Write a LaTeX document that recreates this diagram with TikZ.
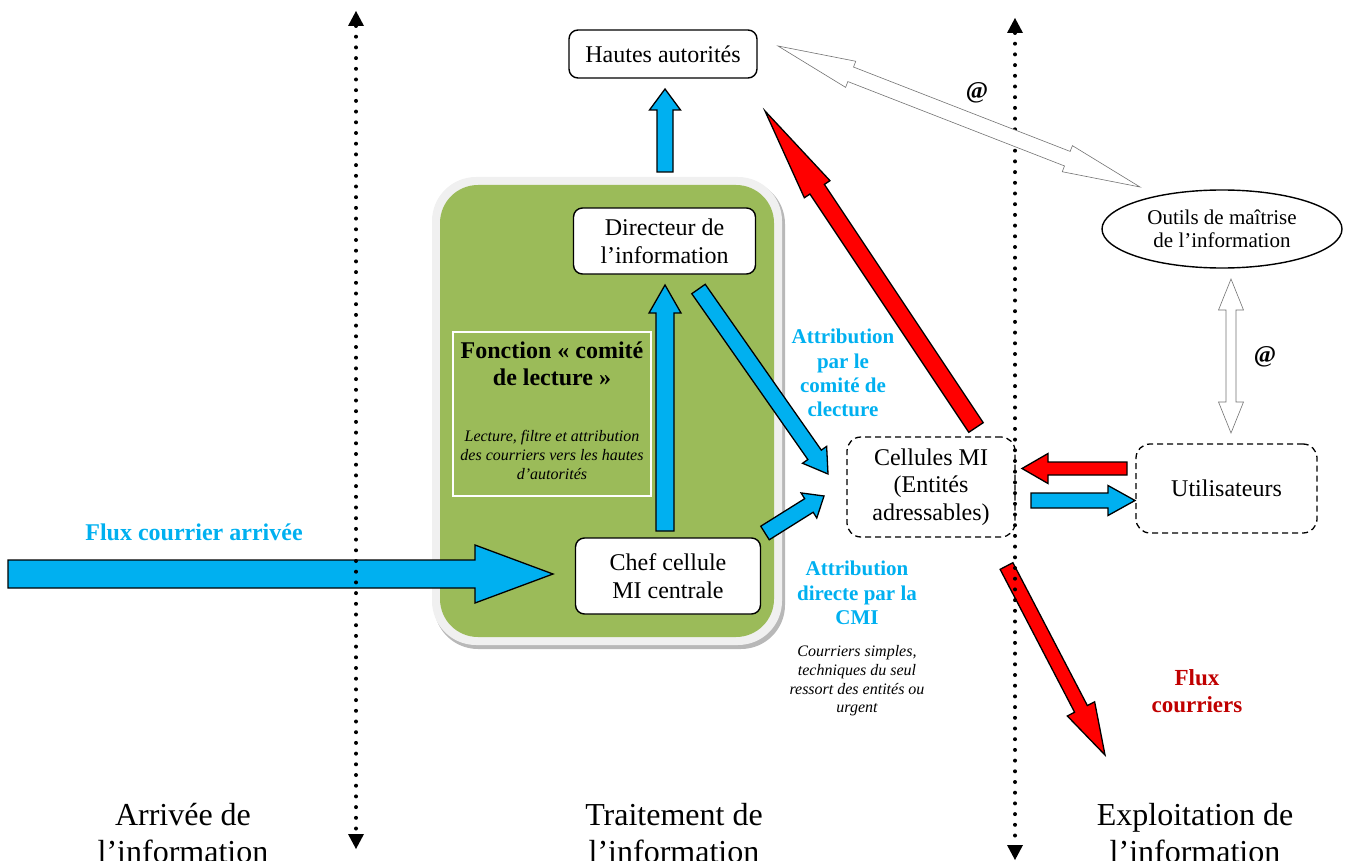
\documentclass[tikz,border=0pt]{standalone}
\usepackage{fontspec}
\setmainfont{Liberation Serif}
\usetikzlibrary{calc,arrows.meta,shapes.geometric}
\definecolor{cblue}{HTML}{00B0F0}
\definecolor{cred}{HTML}{FF0000}
\definecolor{cdred}{HTML}{C00000}
\definecolor{cgreen}{HTML}{9BBB59}
\newcommand\fsz[2]{\fontsize{#1}{#2}\selectfont}
% block arrow: style, from, to, shaft half width, head half width, head length
\newcommand\blkarrow[6]{%
  \path[#1] ($(#2)!#4!90:(#3)$) -- ($(#3)!#6!(#2)!#4!90:(#3)$) -- ($(#3)!#6!(#2)!#5!90:(#3)$) -- (#3)
    -- ($(#3)!#6!(#2)!#5!-90:(#3)$) -- ($(#3)!#6!(#2)!#4!-90:(#3)$) -- ($(#2)!#4!-90:(#3)$) -- cycle;}
% double hollow arrow
\newcommand\dblarrow[6]{%
  \path[#1] (#2) -- ($(#2)!#6!(#3)!#5!90:(#3)$) -- ($(#2)!#6!(#3)!#4!90:(#3)$)
    -- ($(#3)!#6!(#2)!#4!90:(#3)$) -- ($(#3)!#6!(#2)!#5!90:(#3)$) -- (#3)
    -- ($(#3)!#6!(#2)!#5!-90:(#3)$) -- ($(#3)!#6!(#2)!#4!-90:(#3)$)
    -- ($(#2)!#6!(#3)!#4!-90:(#3)$) -- ($(#2)!#6!(#3)!#5!-90:(#3)$) -- cycle;}
\begin{document}
\begin{tikzpicture}[x=1pt,y=-1pt,
  box/.style={draw, line width=1.4pt, rounded corners=9pt, fill=white, align=center, inner sep=0pt,
    font=\fsz{24}{27.6}},
  dbox/.style={draw, line width=1.3pt, dash pattern=on 6pt off 4pt, rounded corners=14pt, align=center,
    inner sep=0pt, font=\fsz{24}{27.3}},
  blueblk/.style={draw=black, line width=1.3pt, fill=cblue, line join=miter},
  redblk/.style={draw=black, line width=1.3pt, fill=cred, line join=miter},
  hollow/.style={draw=black!55, line width=0.6pt, fill=white},
  dotline/.style={line width=4pt, line cap=round, dash pattern=on 0pt off 10.7pt,
    {Triangle[width=16pt,length=15pt,line width=0pt]}-{Triangle[width=16pt,length=15pt,line width=0pt]}},
  bluetxt/.style={text=cblue, font=\bfseries\fsz{21}{24.3}, align=center, inner sep=0pt},
  ital/.style={font=\itshape\fsz{16}{18.6}, align=center, inner sep=0pt},
  bottomtxt/.style={font=\fsz{32}{37}, align=center, inner sep=0pt}]
\useasboundingbox (0,0) rectangle (1351,861);

% green block
\fill[black!28, rounded corners=44pt] (434,180) rectangle (785,649);
\fill[black!6, rounded corners=44pt] (432,177) rectangle (782,645);
\fill[cgreen, rounded corners=38pt] (440,185) rectangle (774,637);

% nodes
\node[box, minimum width=188pt, minimum height=48pt] (ha) at (663,54) {Hautes autorités};
\node[box, minimum width=182pt, minimum height=66pt] (dir) at (664.5,241) {Directeur de\\l’information};
\node[box, minimum width=185pt, minimum height=76pt] (chef) at (668,576) {Chef cellule\\MI centrale};
\node[draw=white, line width=1.2pt, minimum width=198pt, minimum height=164pt, inner sep=0pt] (fct) at (552,414) {};
\node[font=\bfseries\fsz{24}{27}, align=center, inner sep=0pt] (fcttitle) at (552,364) {Fonction « comité\\de lecture »};
\node[ital] (fcttext) at (552,455) {Lecture, filtre et attribution\\des courriers vers les hautes\\d’autorités};
\node[dbox, minimum width=168pt, minimum height=100pt] (cel) at (931,487) {Cellules MI\\(Entités\\adressables)};
\node[dbox, minimum width=181pt, minimum height=89pt] (uti) at (1226.5,488.5) {Utilisateurs};
\node[draw, ellipse, line width=1.4pt, minimum width=240pt, minimum height=78pt, inner sep=0pt,
  align=center, font=\fsz{21}{23.5}] (out) at (1222,229) {Outils de maîtrise\\de l’information};

% texts
\node[bluetxt, font=\bfseries\fsz{24}{27}] (fluxin) at (194,532) {Flux courrier arrivée};
\node[bluetxt] (attr1) at (843,373) {Attribution\\par le\\comité de\\clecture};
\node[bluetxt] (attr2) at (857,593) {Attribution\\directe par la\\CMI};
\node[ital] (courr) at (857,681) {Courriers simples,\\techniques du seul\\ressort des entités ou\\urgent};
\node[text=cdred, font=\bfseries\fsz{23}{27}, align=center, inner sep=0pt] (fluxout) at (1197,691) {Flux\\courriers};
\node[font=\bfseries\fsz{24}{27}, inner sep=0pt] (at1) at (977,93) {@};
\node[font=\bfseries\fsz{24}{27}, inner sep=0pt] (at2) at (1265,357) {@};
\node[bottomtxt] (lab1) at (183,833) {Arrivée de\\l’information};
\node[bottomtxt] (lab2) at (674,833) {Traitement de\\l’information};
\node[bottomtxt] (lab3) at (1195,833) {Exploitation de\\l’information};

% connector end points
\coordinate (ha-s) at (665,172);  \coordinate (ha-e) at (665,89);
\coordinate (cd-s) at (665,531);  \coordinate (cd-e) at (665,285);
\coordinate (dc-s) at (698.5,289); \coordinate (dc-e) at (828,474);
\coordinate (cc-s) at (765,533);  \coordinate (cc-e) at (824,496);
\coordinate (fl-s) at (8,574);    \coordinate (fl-e) at (553,574);
\coordinate (rh-s) at (976,427.5); \coordinate (rh-e) at (765,111);
\coordinate (uc-s) at (1127,468.5); \coordinate (uc-e) at (1022,468.5);
\coordinate (cu-s) at (1031,500.5); \coordinate (cu-e) at (1135,500.5);
\coordinate (rd-s) at (1006.5,566); \coordinate (rd-e) at (1105,755);
\coordinate (ho-a) at (778,46);   \coordinate (ho-b) at (1140,187);
\coordinate (vo-a) at (1231,279); \coordinate (vo-b) at (1231,433);
\coordinate (d1-a) at (356,11);   \coordinate (d1-b) at (356,849);
\coordinate (d2-a) at (1015,18);  \coordinate (d2-b) at (1015,860);

% block arrows
\blkarrow{blueblk}{ha-s}{ha-e}{8pt}{15.5pt}{21pt}
\blkarrow{blueblk}{cd-s}{cd-e}{9pt}{16pt}{28pt}
\blkarrow{blueblk}{dc-s}{dc-e}{8.2pt}{14.7pt}{23.4pt}
\blkarrow{blueblk}{cc-s}{cc-e}{8pt}{14.8pt}{17.8pt}
\blkarrow{blueblk}{fl-s}{fl-e}{14pt}{29pt}{78pt}
\blkarrow{redblk}{rh-s}{rh-e}{8.7pt}{15.4pt}{94pt}
\blkarrow{redblk}{uc-s}{uc-e}{6.5pt}{15pt}{26pt}
\blkarrow{blueblk}{cu-s}{cu-e}{7.5pt}{15pt}{27pt}
\blkarrow{redblk}{rd-s}{rd-e}{7.2pt}{15.4pt}{52pt}

% dotted separators
\draw[dotline] (d1-a) -- (d1-b);
\draw[dotline] (d2-a) -- (d2-b);

% hollow double arrows
\dblarrow{hollow}{ho-a}{ho-b}{7.8pt}{14pt}{78pt}
\dblarrow{hollow}{vo-a}{vo-b}{5pt}{12.5pt}{31pt}
\end{tikzpicture}
\end{document}
